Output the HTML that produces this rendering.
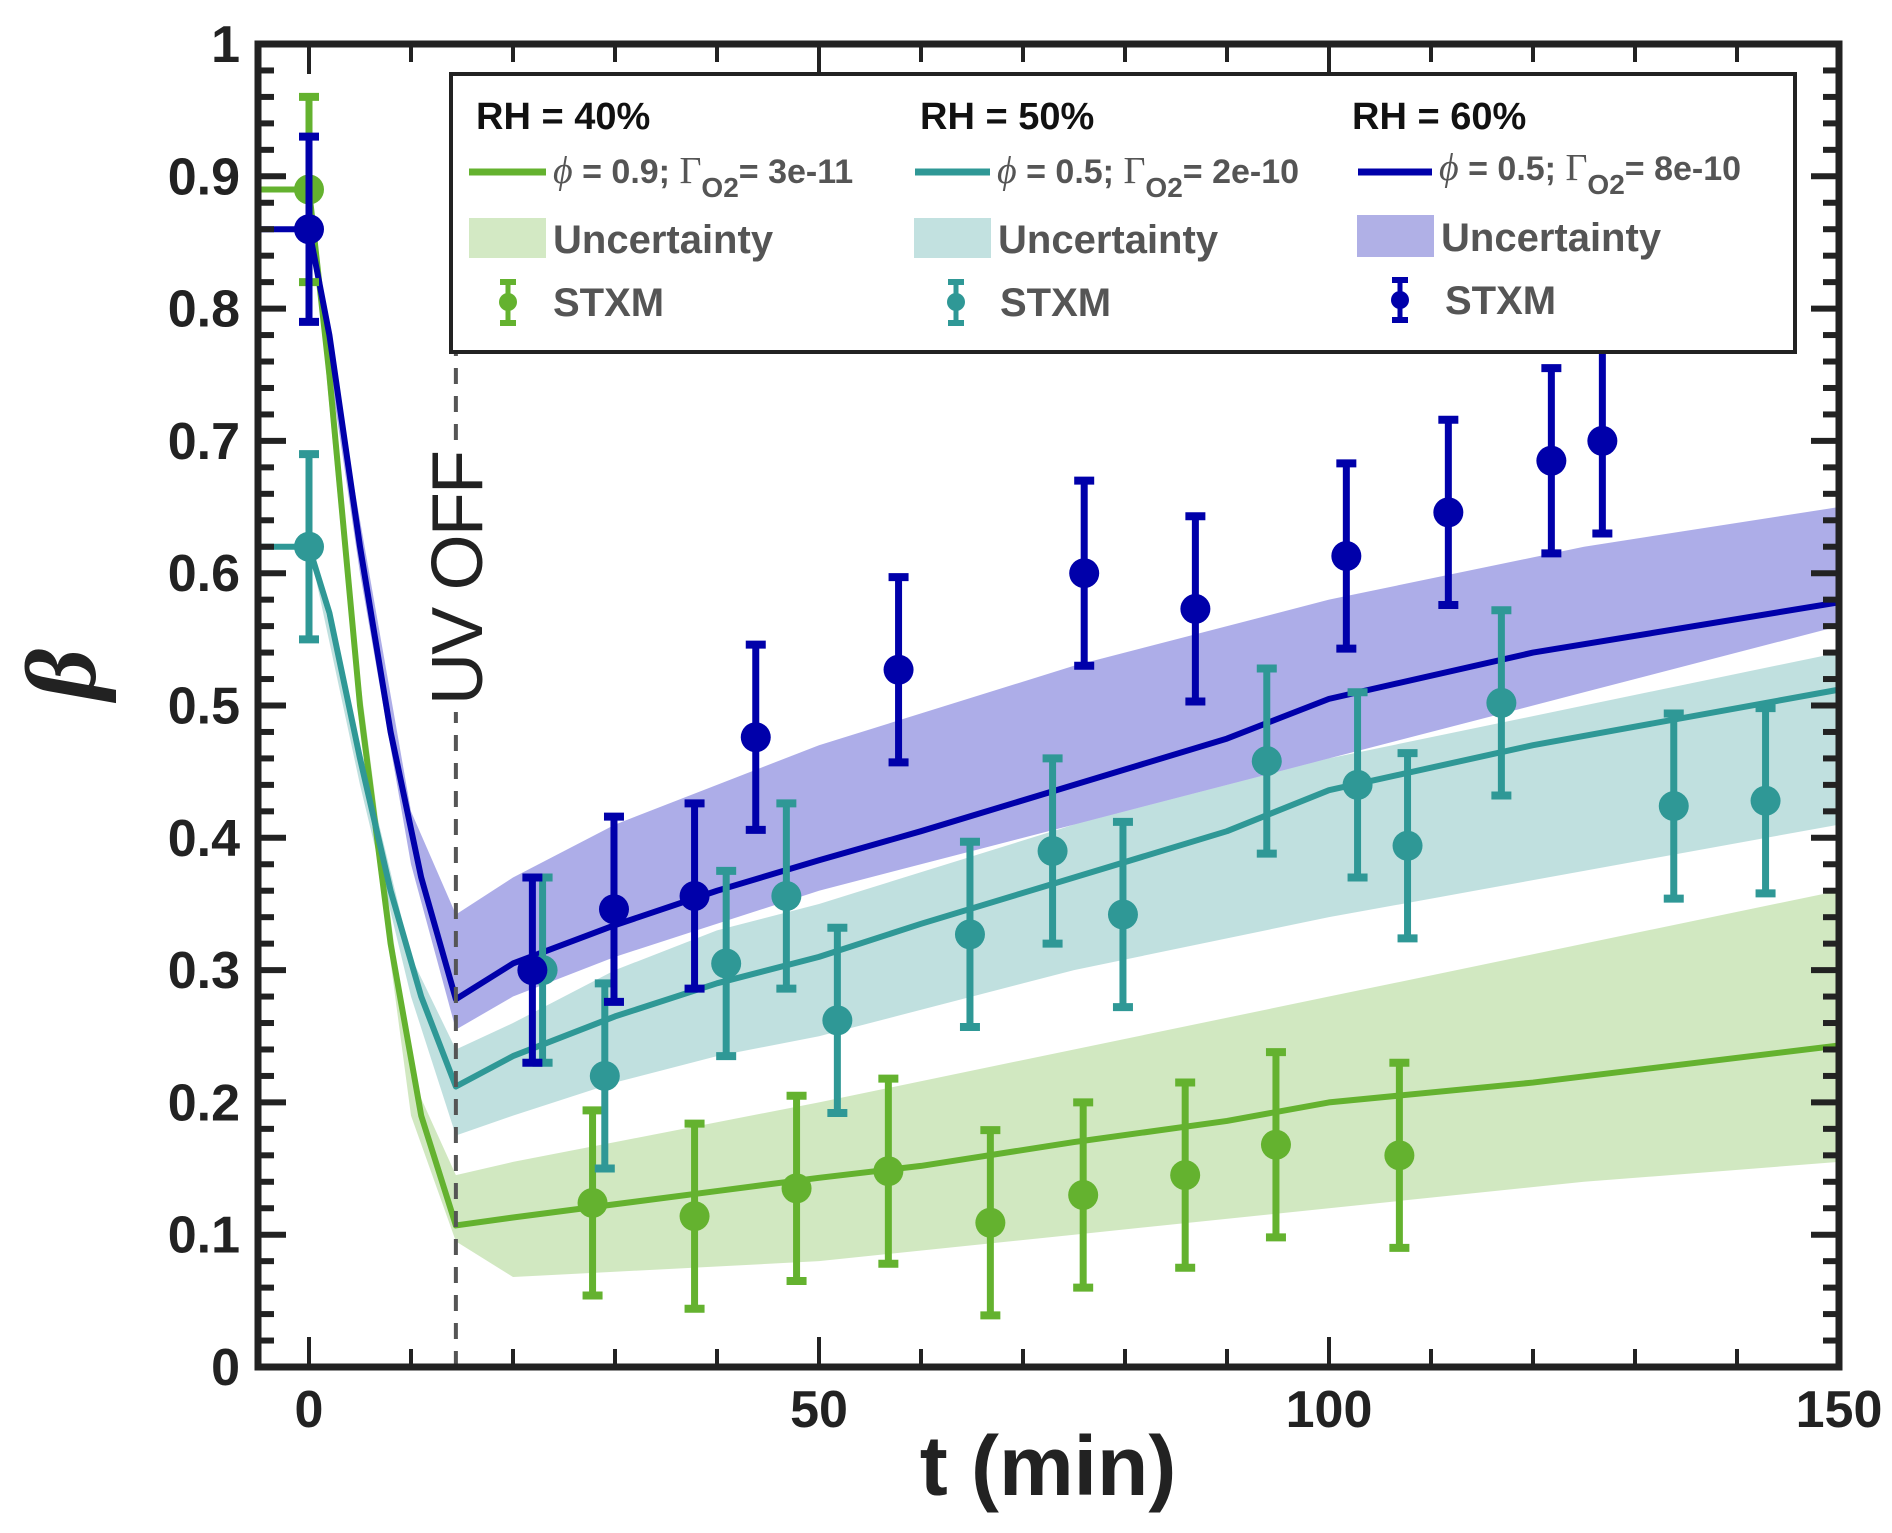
<!DOCTYPE html>
<html><head><meta charset="utf-8"><style>
html,body{margin:0;padding:0;background:#fff;}
svg{display:block;font-family:"Liberation Sans Narrow","Liberation Sans",sans-serif;}
</style></head><body>
<svg id="chart" width="1892" height="1533" viewBox="0 0 1892 1533" xmlns="http://www.w3.org/2000/svg">
<g id="bands"></g><g id="curves"></g><g id="points"></g><g id="axes"></g><g id="legend"></g>
</svg>
<script>
// ---- data ----
const xTicks=[0,50,100,150];
const yTicks=[0,0.1,0.2,0.3,0.4,0.5,0.6,0.7,0.8,0.9,1];
const uvOffT=14.4;
const curveT=[-5,0,2,5,8,11,14.4,20,30,40,50,60,75,90,100,120,150];
const blueCurve=[0.86,0.86,0.78,0.62,0.48,0.37,0.278,0.305,0.334,0.36,0.383,0.405,0.44,0.475,0.505,0.54,0.578];
const tealCurve=[0.62,0.62,0.57,0.46,0.36,0.28,0.212,0.235,0.265,0.29,0.31,0.335,0.37,0.405,0.436,0.47,0.512];
const greenCurve=[0.89,0.89,0.75,0.50,0.32,0.19,0.107,0.113,0.123,0.133,0.143,0.152,0.17,0.186,0.2,0.215,0.243];
const bandT=[0,5,10,14.4,20,30,40,50,75,100,125,150];
const blueUpper=[0.86,0.64,0.42,0.342,0.37,0.41,0.44,0.47,0.53,0.58,0.62,0.65];
const blueLower=[0.86,0.60,0.38,0.255,0.28,0.31,0.335,0.36,0.41,0.46,0.51,0.56];
const tealUpper=[0.62,0.47,0.31,0.24,0.26,0.30,0.33,0.35,0.41,0.46,0.50,0.54];
const tealLower=[0.62,0.44,0.28,0.175,0.19,0.215,0.235,0.25,0.30,0.34,0.375,0.41];
const greenUpper=[0.89,0.52,0.22,0.145,0.155,0.17,0.185,0.2,0.24,0.28,0.32,0.36];
const greenLower=[0.89,0.48,0.19,0.095,0.068,0.072,0.076,0.08,0.1,0.12,0.14,0.155];
const blueT=[0,21.9,29.9,37.8,43.8,57.8,76,86.9,101.7,111.7,121.8,126.8];
const blueY=[0.86,0.30,0.346,0.356,0.476,0.527,0.60,0.573,0.613,0.646,0.685,0.70];
const tealT=[0,22.9,29,40.9,46.8,51.8,64.8,72.9,79.8,93.9,102.8,107.7,116.9,133.8,142.8];
const tealY=[0.62,0.30,0.22,0.305,0.356,0.262,0.327,0.39,0.342,0.458,0.44,0.394,0.502,0.424,0.428];
const greenT=[0,27.8,37.8,47.8,56.8,66.8,75.9,85.9,94.8,106.9];
const greenY=[0.89,0.124,0.114,0.135,0.148,0.109,0.13,0.145,0.168,0.16];
const errHalf=0.07;
// ---- layout ----
const L=258,R=1839,T=44,B=1367,XMIN=-5,XMAX=150;
const sx=t=>L+(t-XMIN)/(XMAX-XMIN)*(R-L);
const sy=v=>B-v*(B-T);
const NS="http://www.w3.org/2000/svg";
function mk(tag,attrs,parent){const e=document.createElementNS(NS,tag);for(const k in attrs)e.setAttribute(k,attrs[k]);parent.appendChild(e);return e;}
const C={green:"#64b22f",teal:"#2f9896",blue:"#0000aa"};
const bands=document.getElementById('bands');
function band(up,lo,fill,name){
  let d="M"+bandT.map((t,i)=>sx(t)+","+sy(up[i])).join("L");
  d+="L"+bandT.slice().reverse().map((t,i)=>sx(t)+","+sy(lo[lo.length-1-i])).join("L")+"Z";
  const p=mk('path',{d:d,fill:fill},bands);
  
  
}
band(greenUpper,greenLower,"rgba(102,178,50,0.3)","uncertainty-band-rh40");
band(tealUpper,tealLower,"rgba(47,152,150,0.3)","uncertainty-band-rh50");
band(blueUpper,blueLower,"rgba(60,60,200,0.42)","uncertainty-band-rh60");
const curves=document.getElementById('curves');
function curve(vals,col,name){
  const p=mk('path',{d:"M"+curveT.map((t,i)=>sx(t)+","+sy(vals[i])).join("L"),fill:"none",stroke:col,"stroke-width":6,"stroke-linejoin":"round"},curves);
  
  
}
curve(greenCurve,C.green,"model-curve-rh40");
curve(tealCurve,C.teal,"model-curve-rh50");
curve(blueCurve,C.blue,"model-curve-rh60");
const pts=document.getElementById('points');
function series(ts,ys,col,name){
  ts.forEach((t,i)=>{
    const g=mk('g',{},pts);
    
    
    const x=sx(t),y1=sy(ys[i]+errHalf),y0=sy(ys[i]-errHalf);
    mk('line',{x1:x,x2:x,y1:y1,y2:y0,stroke:col,"stroke-width":7},g);
    mk('line',{x1:x-10,x2:x+10,y1:y1,y2:y1,stroke:col,"stroke-width":8},g);
    mk('line',{x1:x-10,x2:x+10,y1:y0,y2:y0,stroke:col,"stroke-width":8},g);
    mk('circle',{cx:x,cy:sy(ys[i]),r:15,fill:col},g);
  });
}
series(greenT,greenY,C.green,"stxm-point-rh40");
series(tealT,tealY,C.teal,"stxm-point-rh50");
series(blueT,blueY,C.blue,"stxm-point-rh60");
// axes
const ax=document.getElementById('axes');
const uv=mk('line',{x1:sx(uvOffT),x2:sx(uvOffT),y1:B,y2:712,stroke:"#555","stroke-width":4,"stroke-dasharray":"16,12"},ax);


const uv2=mk('line',{x1:sx(uvOffT),x2:sx(uvOffT),y1:440,y2:352,stroke:"#555","stroke-width":4,"stroke-dasharray":"16,12"},ax);


const uvt=mk('text',{x:0,y:0,"font-size":72,fill:"#222",textLength:255,transform:`translate(${sx(uvOffT)+26},705) rotate(-90)`},ax);
uvt.textContent="UV OFF";


for(let v=0;v<=1.0001;v+=0.02){
  const y=sy(v);const maj=Math.abs(v*10-Math.round(v*10))<1e-6;const len=maj?28:16;
  mk('line',{x1:L,x2:L+len,y1:y,y2:y,stroke:"#222","stroke-width":6},ax);
  mk('line',{x1:R,x2:R-len,y1:y,y2:y,stroke:"#222","stroke-width":6},ax);
}
for(let t=0;t<=150;t+=10){
  const x=sx(t);const maj=t%50===0;const len=maj?30:18;
  mk('line',{x1:x,x2:x,y1:B,y2:B-len,stroke:"#222","stroke-width":4},ax);
  mk('line',{x1:x,x2:x,y1:T,y2:T+len,stroke:"#222","stroke-width":4},ax);
}
const fr=mk('rect',{x:L,y:T,width:R-L,height:B-T,fill:"none",stroke:"#222","stroke-width":7},ax);


yTicks.forEach(v=>{
  const t=mk('text',{x:L-18,y:sy(v)+18,"text-anchor":"end","font-size":52,"font-weight":"bold",fill:"#222"},ax);
  t.textContent=String(v);
  
  
});
xTicks.forEach(v=>{
  const t=mk('text',{x:sx(v),y:B+60,"text-anchor":"middle","font-size":52,"font-weight":"bold",fill:"#222"},ax);
  t.textContent=String(v);
  
  
});
</script>
<svg style="position:absolute;left:0;top:0" width="1892" height="1533" viewBox="0 0 1892 1533" xmlns="http://www.w3.org/2000/svg" font-family="Liberation Sans Narrow, Liberation Sans, sans-serif">
<text x="1048" y="1495" text-anchor="middle" font-size="84" font-weight="bold" fill="#222">t (min)</text>
<text transform="translate(95,700) rotate(-90)" font-family="Liberation Serif, serif" font-style="italic" font-weight="bold" font-size="100" fill="#222">β</text>
<g>
<rect x="451" y="74" width="1344" height="278" fill="#fff" stroke="#222" stroke-width="4"/>
<g font-weight="bold" font-size="38" fill="#111">
<text x="476" y="129">RH = 40%</text>
<text x="920" y="129">RH = 50%</text>
<text x="1352" y="129">RH = 60%</text>
</g>
<g>
<line x1="469" x2="546" y1="172" y2="172" stroke="#64b22f" stroke-width="7"/>
<text x="553" y="183" font-size="34" font-weight="bold" fill="#555"><tspan font-family="Liberation Serif,serif" font-style="italic" font-weight="normal" font-size="38">ϕ</tspan> = 0.9; <tspan font-family="Liberation Serif,serif" font-weight="normal" font-size="38">Γ</tspan><tspan dy="14" font-size="28">O2</tspan><tspan dy="-14">= 3e-11</tspan></text>
</g>
<g>
<line x1="915" x2="990" y1="172" y2="172" stroke="#2f9896" stroke-width="7"/>
<text x="997" y="183" font-size="34" font-weight="bold" fill="#555"><tspan font-family="Liberation Serif,serif" font-style="italic" font-weight="normal" font-size="38">ϕ</tspan> = 0.5; <tspan font-family="Liberation Serif,serif" font-weight="normal" font-size="38">Γ</tspan><tspan dy="14" font-size="28">O2</tspan><tspan dy="-14">= 2e-10</tspan></text>
</g>
<g>
<line x1="1358" x2="1432" y1="172" y2="172" stroke="#0000aa" stroke-width="7"/>
<text x="1439" y="180" font-size="34" font-weight="bold" fill="#555"><tspan font-family="Liberation Serif,serif" font-style="italic" font-weight="normal" font-size="38">ϕ</tspan> = 0.5; <tspan font-family="Liberation Serif,serif" font-weight="normal" font-size="38">Γ</tspan><tspan dy="14" font-size="28">O2</tspan><tspan dy="-14">= 8e-10</tspan></text>
</g>
<g font-size="40" font-weight="bold" fill="#555">
<g><rect x="469" y="218" width="77" height="40" fill="#d3e9c4"/><text x="553" y="253">Uncertainty</text></g>
<g><rect x="914" y="218" width="77" height="40" fill="#c2e1e0"/><text x="998" y="253">Uncertainty</text></g>
<g><rect x="1357" y="215" width="77" height="42" fill="#b0b0e6"/><text x="1441" y="251">Uncertainty</text></g>
<g><line x1="508" x2="508" y1="282" y2="323" stroke="#64b22f" stroke-width="5"/><line x1="500" x2="516" y1="282" y2="282" stroke="#64b22f" stroke-width="6"/><line x1="500" x2="516" y1="323" y2="323" stroke="#64b22f" stroke-width="6"/><circle cx="508" cy="302" r="9" fill="#64b22f"/><text x="553" y="316">STXM</text></g>
<g><line x1="956" x2="956" y1="282" y2="323" stroke="#2f9896" stroke-width="5"/><line x1="948" x2="964" y1="282" y2="282" stroke="#2f9896" stroke-width="6"/><line x1="948" x2="964" y1="323" y2="323" stroke="#2f9896" stroke-width="6"/><circle cx="956" cy="302" r="9" fill="#2f9896"/><text x="1000" y="316">STXM</text></g>
<g><line x1="1400" x2="1400" y1="280" y2="320" stroke="#0000aa" stroke-width="5"/><line x1="1392" x2="1408" y1="280" y2="280" stroke="#0000aa" stroke-width="6"/><line x1="1392" x2="1408" y1="320" y2="320" stroke="#0000aa" stroke-width="6"/><circle cx="1400" cy="300" r="9" fill="#0000aa"/><text x="1445" y="314">STXM</text></g>
</g>
</g>
</svg>
</body></html>
